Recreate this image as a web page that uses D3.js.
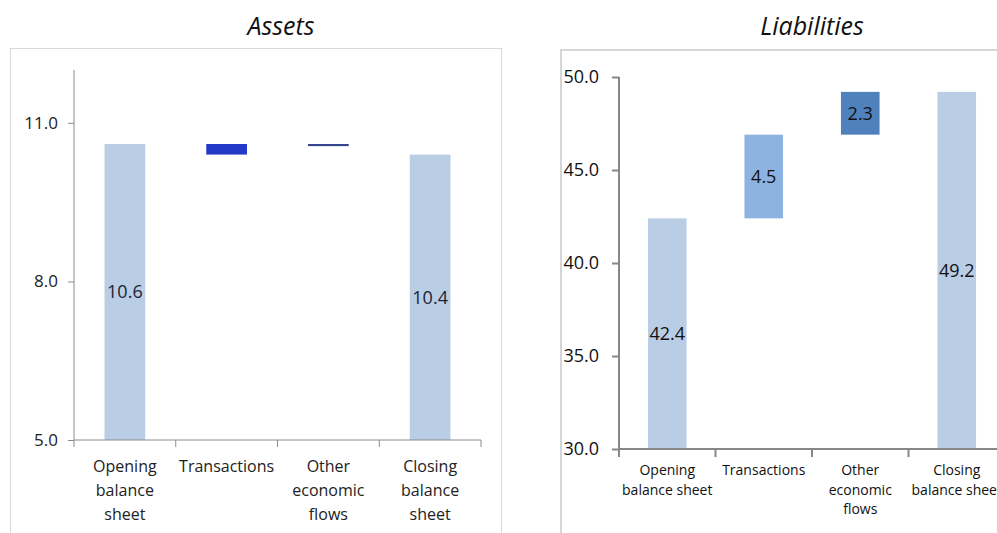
<!DOCTYPE html>
<html>
<head>
<meta charset="utf-8">
<script src="https://cdn.jsdelivr.net/npm/d3@7"></script>
<style>
  html, body { margin: 0; padding: 0; background: #fff; }
  svg { display: block; }
  text { font-family: "Open Sans", "Noto Sans", sans-serif; }
</style>
</head>
<body>
<svg id="chart" width="997" height="533"></svg>
<script>
// ---- Data ----
const categories = ["Opening balance sheet", "Transactions", "Other economic flows", "Closing balance sheet"];

const assetsLabelLines = [["Opening", "balance", "sheet"], ["Transactions"], ["Other", "economic", "flows"], ["Closing", "balance", "sheet"]];
const liabilitiesLabelLines = [["Opening", "balance sheet"], ["Transactions"], ["Other", "economic", "flows"], ["Closing", "balance sheet"]];

// waterfall segments: start and end value of each bar
const assetsStart = [0, 10.6, 10.56, 0];
const assetsEnd   = [10.6, 10.4, 10.6, 10.4];
const assetsValueLabels = ["10.6", "", "", "10.4"];

const liabilitiesStart = [0, 42.4, 46.9, 0];
const liabilitiesEnd   = [42.4, 46.9, 49.2, 49.2];
const liabilitiesValueLabels = ["42.4", "4.5", "2.3", "49.2"];

const assetsTicks = [5, 8, 11];
const liabilitiesTicks = [30, 35, 40, 45, 50];

const assetsColors = ["#b9cde5", "#2439c6", "#34478c", "#b9cde5"];
const liabilitiesColors = ["#b9cde5", "#8db3e2", "#4f81bd", "#b9cde5"];

const svg = d3.select("#chart");

// panel frames
svg.append("rect").attr("x", 10.5).attr("y", 48.5).attr("width", 491).attr("height", 520)
  .attr("fill", "#fff").attr("stroke", "#d9d9d9").attr("stroke-width", 1);
svg.append("rect").attr("x", 561).attr("y", 50).attr("width", 460).attr("height", 520)
  .attr("fill", "#fff").attr("stroke", "#d6d6d6").attr("stroke-width", 2);

// titles
svg.append("text").attr("x", 281).attr("y", 35).attr("text-anchor", "middle")
  .attr("font-size", 25).attr("font-style", "italic").attr("fill", "#111").text("Assets");
svg.append("text").attr("x", 812).attr("y", 35).attr("text-anchor", "middle")
  .attr("font-size", 25).attr("font-style", "italic").attr("fill", "#111").text("Liabilities");

function drawPanel(opt) {
  const g = svg.append("g");
  const y = d3.scaleLinear().domain(opt.domain).range([opt.bottom, opt.top]);
  const x = d3.scaleBand().domain(categories).range([opt.left, opt.right]).padding(0);
  const bw = x.bandwidth() * opt.barFrac;
  const lo = opt.domain[0];

  // bars
  g.selectAll("rect.bar").data(categories).join("rect")
    .attr("x", d => x(d) + (x.bandwidth() - bw) / 2)
    .attr("width", bw)
    .attr("y", (d, i) => y(Math.max(opt.start[i], opt.end[i])))
    .attr("height", (d, i) => y(Math.max(lo, Math.min(opt.start[i], opt.end[i]))) - y(Math.max(opt.start[i], opt.end[i])))
    .attr("fill", (d, i) => opt.colors[i]);

  // value labels
  g.selectAll("text.val").data(categories).join("text")
    .attr("x", d => x(d) + x.bandwidth() / 2)
    .attr("y", (d, i) => {
      const a = y(Math.max(opt.start[i], opt.end[i]));
      const b = y(Math.max(lo, Math.min(opt.start[i], opt.end[i])));
      return (a + b) / 2;
    })
    .attr("dy", "0.35em")
    .attr("text-anchor", "middle")
    .attr("font-size", opt.valSize)
    .attr("fill", opt.valColor)
    .text((d, i) => opt.valueLabels[i]);

  // y axis
  const yAxis = d3.axisLeft(y).tickValues(opt.ticks).tickSize(opt.tickLen).tickPadding(opt.tickPad)
    .tickFormat(d3.format(".1f"));
  const ya = g.append("g").attr("transform", `translate(${opt.left},0)`).call(yAxis);
  ya.select(".domain").remove();
  ya.selectAll(".tick line").attr("stroke", opt.axisColor).attr("stroke-width", opt.axisWidth);
  ya.selectAll(".tick text").attr("font-size", opt.tickSize).attr("fill", opt.tickColor)
    .attr("font-family", "'Open Sans', sans-serif");
  g.append("line").attr("x1", opt.left).attr("x2", opt.left).attr("y1", opt.top).attr("y2", opt.bottom)
    .attr("stroke", opt.axisColor).attr("stroke-width", opt.axisWidth);

  // x axis
  g.append("line").attr("x1", opt.left).attr("x2", opt.axisEnd).attr("y1", opt.bottom).attr("y2", opt.bottom)
    .attr("stroke", opt.axisColor).attr("stroke-width", opt.axisWidth);
  const bounds = categories.map(d => x(d)).concat([opt.right]);
  g.selectAll("line.xt").data(bounds).join("line")
    .attr("x1", d => d).attr("x2", d => d)
    .attr("y1", opt.bottom).attr("y2", opt.bottom + opt.tickLen + 1)
    .attr("stroke", opt.axisColor).attr("stroke-width", opt.axisWidth);

  // category labels
  categories.forEach((c, i) => {
    const t = g.append("text").attr("text-anchor", "middle")
      .attr("font-size", opt.catSize).attr("fill", opt.catColor);
    opt.lines[i].forEach((ln, j) => {
      t.append("tspan").attr("x", x(c) + x.bandwidth() / 2)
        .attr("y", opt.catY + j * opt.catLine).text(ln);
    });
  });
}

drawPanel({
  domain: [5, 12], top: 70, bottom: 440, left: 74, right: 481, axisEnd: 481,
  barFrac: 0.4, start: assetsStart, end: assetsEnd, colors: assetsColors,
  valueLabels: assetsValueLabels, valSize: 18, valColor: "#1c2436",
  ticks: assetsTicks, tickLen: 6, tickPad: 10, tickSize: 17, tickColor: "#222",
  axisColor: "#8c8c8c", axisWidth: 1,
  lines: assetsLabelLines, catSize: 16, catColor: "#222", catY: 472, catLine: 24
});

drawPanel({
  domain: [30, 50], top: 77, bottom: 449, left: 619, right: 1005, axisEnd: 1000,
  barFrac: 0.4, start: liabilitiesStart, end: liabilitiesEnd, colors: liabilitiesColors,
  valueLabels: liabilitiesValueLabels, valSize: 18, valColor: "#111",
  ticks: liabilitiesTicks, tickLen: 7, tickPad: 13, tickSize: 18, tickColor: "#111",
  axisColor: "#878787", axisWidth: 2,
  lines: liabilitiesLabelLines, catSize: 14, catColor: "#111", catY: 475, catLine: 19.5
});
</script>
</body>
</html>
